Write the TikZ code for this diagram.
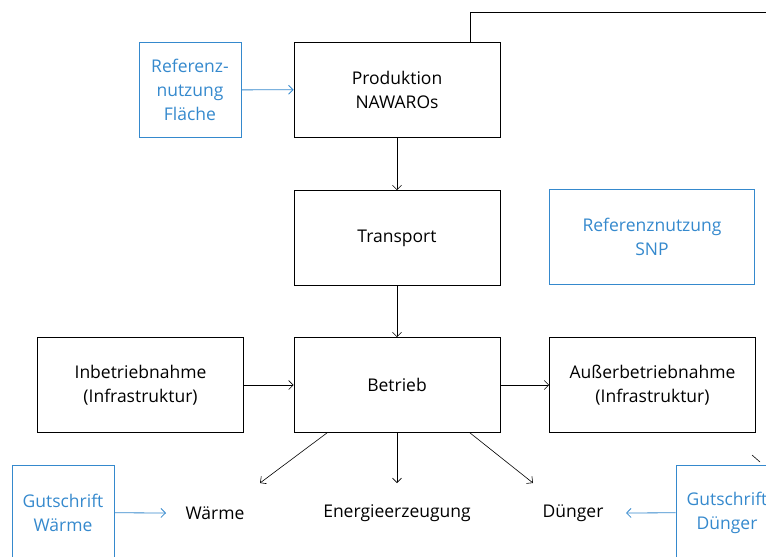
\documentclass[tikz,border=0pt]{standalone}
\usepackage{fontspec}
\setmainfont{Open Sans}
\usepackage{tikz}
\usetikzlibrary{arrows.meta}
\definecolor{RefBlue}{HTML}{3589CD}

\begin{document}
\begin{tikzpicture}[x=1pt, y=-1pt,
  every node/.style={font=\fontsize{17.5}{24}\selectfont, align=center},
  proc/.style={draw, line width=0.8pt, minimum width=206pt, minimum height=95pt, inner sep=0pt},
  refbox/.style={draw=RefBlue, line width=0.8pt, text=RefBlue, minimum width=102pt,
                 minimum height=95pt, inner sep=0pt},
  prodtext/.style={inner sep=2pt},
  >={Straight Barb[length=4.5pt,width=9pt]}]
  \useasboundingbox (0,0) rectangle (766,557);
  \clip (0,0) rectangle (766,557);
  % main chain
  \node[proc] (prod)  at (397,89.5)  {Produktion\\NAWAROs};
  \node[proc] (trans) at (397,238)   {Transport};
  \node[proc] (betr)  at (397,385)   {Betrieb};
  \node[proc] (inbe)  at (140.5,385) {Inbetriebnahme\\(Infrastruktur)};
  \node[proc] (ausb)  at (652.5,385) {Außerbetriebnahme\\(Infrastruktur)};
  % reference boxes
  \node[refbox] (flae) at (190,90)  {Referenz-\\nutzung\\Fläche};
  \node[refbox, minimum width=205pt] (snp) at (652,236.5) {Referenznutzung\\SNP};
  \node[refbox] (gw) at (63,512.5)  {Gutschrift\\Wärme};
  \node[refbox] (gd) at (727,512.5) {Gutschrift\\Dünger};
  % products
  \node[prodtext] (waerme) at (215,513) {Wärme};
  \node[prodtext] (energ)  at (397,513) {Energieerzeugung};
  \node[prodtext] (dueng)  at (573,513) {Dünger};
  \coordinate (wt) at (260,483);
  \coordinate (et) at (397,483);
  \coordinate (dt) at (533,483);
  \coordinate (wl) at (166,513);
  \coordinate (dr) at (626,513);
  % connectors
  \draw[->, RefBlue, line width=0.8pt] (flae) -- (prod);
  \draw[->, line width=0.6pt] (prod) -- (trans);
  \draw[->, line width=0.6pt] (trans) -- (betr);
  \draw[->, line width=0.6pt] (inbe) -- (betr);
  \draw[->, line width=0.6pt] (betr) -- (ausb);
  \draw[->, line width=0.6pt] ([xshift=-70pt]betr.south) -- (wt);
  \draw[->, line width=0.6pt] (betr) -- (et);
  \draw[->, line width=0.6pt] ([xshift=73pt]betr.south) -- (dt);
  \draw[->, RefBlue, line width=0.8pt] (gw) -- (wl);
  \draw[->, RefBlue, line width=0.8pt] (gd) -- (dr);
  % link leaving the picture
  \coordinate (exit) at (766,12);
  \draw[line width=0.8pt] ([xshift=73pt]prod.north) |- (exit);
  \coordinate (cutA) at (752,455);
  \coordinate (cutB) at (760,462);
  \draw[line width=0.6pt] (cutA) -- (cutB);
\end{tikzpicture}
\end{document}
